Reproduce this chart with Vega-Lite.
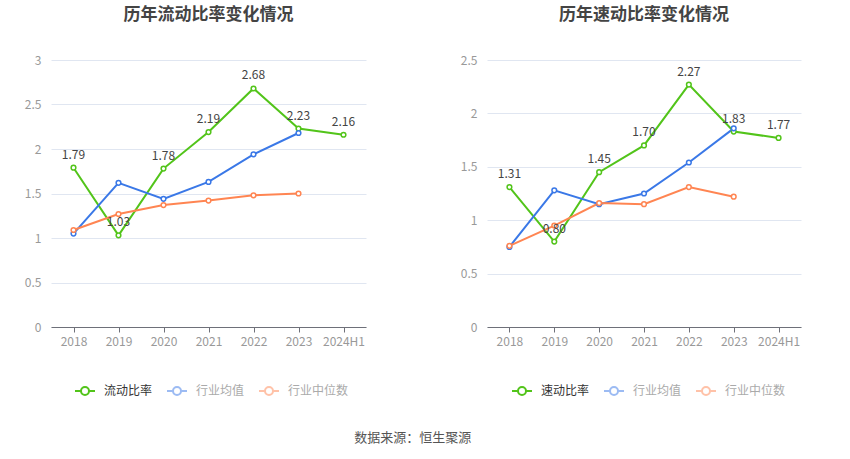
{
  "$schema": "https://vega.github.io/schema/vega-lite/v6.json",
  "description": "历年流动比率 / 速动比率变化情况",
  "padding": {"left": 24, "top": 6, "right": 10, "bottom": 8},
  "background": "white",
  "datasets": {
    "current": [
      {"year": "2018", "series": "流动比率", "value": 1.79},
      {"year": "2019", "series": "流动比率", "value": 1.03},
      {"year": "2020", "series": "流动比率", "value": 1.78},
      {"year": "2021", "series": "流动比率", "value": 2.19},
      {"year": "2022", "series": "流动比率", "value": 2.68},
      {"year": "2023", "series": "流动比率", "value": 2.23},
      {"year": "2024H1", "series": "流动比率", "value": 2.16},
      {"year": "2018", "series": "行业均值", "value": 1.05},
      {"year": "2019", "series": "行业均值", "value": 1.62},
      {"year": "2020", "series": "行业均值", "value": 1.44},
      {"year": "2021", "series": "行业均值", "value": 1.63},
      {"year": "2022", "series": "行业均值", "value": 1.94},
      {"year": "2023", "series": "行业均值", "value": 2.18},
      {"year": "2018", "series": "行业中位数", "value": 1.09},
      {"year": "2019", "series": "行业中位数", "value": 1.27},
      {"year": "2020", "series": "行业中位数", "value": 1.37},
      {"year": "2021", "series": "行业中位数", "value": 1.42},
      {"year": "2022", "series": "行业中位数", "value": 1.48},
      {"year": "2023", "series": "行业中位数", "value": 1.5}
    ],
    "quick": [
      {"year": "2018", "series": "速动比率", "value": 1.31},
      {"year": "2019", "series": "速动比率", "value": 0.8},
      {"year": "2020", "series": "速动比率", "value": 1.45},
      {"year": "2021", "series": "速动比率", "value": 1.7},
      {"year": "2022", "series": "速动比率", "value": 2.27},
      {"year": "2023", "series": "速动比率", "value": 1.83},
      {"year": "2024H1", "series": "速动比率", "value": 1.77},
      {"year": "2018", "series": "行业均值", "value": 0.75},
      {"year": "2019", "series": "行业均值", "value": 1.28},
      {"year": "2020", "series": "行业均值", "value": 1.15},
      {"year": "2021", "series": "行业均值", "value": 1.25},
      {"year": "2022", "series": "行业均值", "value": 1.54},
      {"year": "2023", "series": "行业均值", "value": 1.86},
      {"year": "2018", "series": "行业中位数", "value": 0.76},
      {"year": "2019", "series": "行业中位数", "value": 0.95},
      {"year": "2020", "series": "行业中位数", "value": 1.16},
      {"year": "2021", "series": "行业中位数", "value": 1.15},
      {"year": "2022", "series": "行业中位数", "value": 1.31},
      {"year": "2023", "series": "行业中位数", "value": 1.22}
    ]
  },
  "title": {
    "text": "数据来源：恒生聚源",
    "orient": "bottom",
    "anchor": "middle",
    "fontSize": 13,
    "fontWeight": "normal",
    "color": "#555",
    "offset": 33
  },
  "spacing": 94,
  "hconcat": [
    {
      "title": "历年流动比率变化情况",
      "width": 315,
      "height": 267,
      "data": {"name": "current"},
      "encoding": {
        "x": {
          "field": "year",
          "type": "ordinal",
          "sort": null,
          "scale": {"type": "point", "padding": 0.5},
          "axis": {"title": null, "labelAngle": 0}
        },
        "y": {
          "field": "value",
          "type": "quantitative",
          "scale": {"domain": [0, 3]},
          "axis": {"title": null, "values": [0, 0.5, 1, 1.5, 2, 2.5, 3], "format": "~g"}
        },
        "color": {
          "field": "series",
          "type": "nominal",
          "scale": {
            "domain": ["流动比率", "行业均值", "行业中位数"],
            "range": ["#52c41a", "#3a78e7", "#ff8552"]
          },
          "legend": {
            "legendX": 23,
            "encode": {
              "symbols": {
                "update": {
                  "strokeOpacity": {"signal": "datum.value === '流动比率' ? 1 : 0.5"}
                }
              },
              "labels": {
                "update": {
                  "fill": {"signal": "datum.value === '流动比率' ? '#333333' : '#aaaaaa'"}
                }
              }
            }
          }
        }
      },
      "layer": [
        {
          "mark": {
            "type": "line",
            "strokeWidth": 2,
            "point": {"filled": false, "fill": "white", "size": 22, "strokeWidth": 1.5}
          }
        },
        {
          "transform": [{"filter": "datum.series === '流动比率'"}],
          "mark": {"type": "text", "baseline": "bottom", "dy": -6, "fontSize": 12, "color": "#444"},
          "encoding": {
            "text": {"field": "value", "type": "quantitative", "format": ".2f"},
            "color": {"value": "#444"}
          }
        }
      ]
    },
    {
      "title": "历年速动比率变化情况",
      "width": 314,
      "height": 267,
      "data": {"name": "quick"},
      "encoding": {
        "x": {
          "field": "year",
          "type": "ordinal",
          "sort": null,
          "scale": {"type": "point", "padding": 0.5},
          "axis": {"title": null, "labelAngle": 0}
        },
        "y": {
          "field": "value",
          "type": "quantitative",
          "scale": {"domain": [0, 2.5]},
          "axis": {"title": null, "values": [0, 0.5, 1, 1.5, 2, 2.5], "format": "~g"}
        },
        "color": {
          "field": "series",
          "type": "nominal",
          "scale": {
            "domain": ["速动比率", "行业均值", "行业中位数"],
            "range": ["#52c41a", "#3a78e7", "#ff8552"]
          },
          "legend": {
            "legendX": 24,
            "encode": {
              "symbols": {
                "update": {
                  "strokeOpacity": {"signal": "datum.value === '速动比率' ? 1 : 0.5"}
                }
              },
              "labels": {
                "update": {
                  "fill": {"signal": "datum.value === '速动比率' ? '#333333' : '#aaaaaa'"}
                }
              }
            }
          }
        }
      },
      "layer": [
        {
          "mark": {
            "type": "line",
            "strokeWidth": 2,
            "point": {"filled": false, "fill": "white", "size": 22, "strokeWidth": 1.5}
          }
        },
        {
          "transform": [{"filter": "datum.series === '速动比率'"}],
          "mark": {"type": "text", "baseline": "bottom", "dy": -6, "fontSize": 12, "color": "#444"},
          "encoding": {
            "text": {"field": "value", "type": "quantitative", "format": ".2f"},
            "color": {"value": "#444"}
          }
        }
      ]
    }
  ],
  "resolve": {"scale": {"color": "independent", "y": "independent", "x": "independent"}},
  "config": {
    "font": "Noto Sans CJK SC",
    "view": {"stroke": null},
    "title": {"fontSize": 17, "fontWeight": "bold", "color": "#444", "anchor": "middle", "offset": 30},
    "axisY": {
      "domain": false,
      "ticks": false,
      "labelPadding": 10,
      "labelColor": "#999",
      "labelFontSize": 12,
      "gridColor": "#e0e6f1",
      "gridWidth": 1
    },
    "axisX": {
      "domainColor": "#6e7079",
      "domainWidth": 1,
      "tickColor": "#6e7079",
      "tickSize": 5,
      "labelPadding": 4,
      "labelColor": "#999",
      "labelFontSize": 12,
      "grid": false
    },
    "legend": {
      "orient": "none",
      "legendY": 320,
      "direction": "horizontal",
      "title": null,
      "padding": 0,
      "symbolType": "M -1 0 L -0.4 0 M 0.4 0 L 1 0 M -0.4 0 A 0.4 0.4 0 1 0 0.4 0 A 0.4 0.4 0 1 0 -0.4 0",
      "symbolSize": 400,
      "symbolStrokeWidth": 2,
      "symbolFillColor": "white",
      "labelFontSize": 12,
      "labelColor": "#333",
      "columnPadding": 10,
      "labelOffset": 8
    }
  }
}
